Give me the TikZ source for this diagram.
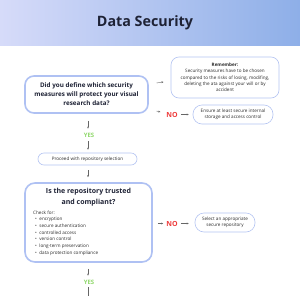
\documentclass[tikz,border=0pt]{standalone}
\usepackage{fontspec}
\setmainfont{Open Sans}
\usetikzlibrary{arrows.meta}
\definecolor{boxline}{HTML}{AFC1F3}
\definecolor{thinline}{HTML}{B4C4F2}
\definecolor{titletxt}{HTML}{1E2235}
\definecolor{yesgreen}{HTML}{8FD86A}
\definecolor{nored}{HTML}{EE3B3B}
\definecolor{bandL}{HTML}{D6DBF9}
\definecolor{bandR}{HTML}{8EAFE8}
\definecolor{txt}{HTML}{2A2A2A}
\tikzset{
  bigbox/.style={draw=boxline, line width=1.6pt, rounded corners=9pt, fill=white, inner sep=0pt},
  smallbox/.style={draw=thinline, line width=0.6pt, rounded corners=8pt, fill=white, inner sep=0pt, align=center,
     font=\fontsize{4.6}{6.3}\selectfont, text=txt},
  qtext/.style={font=\bfseries\fontsize{6.3}{9}\selectfont, align=center, text=titletxt},
  q2text/.style={font=\bfseries\fontsize{7}{10.5}\selectfont, align=center, text=titletxt},
  yeslbl/.style={font=\bfseries\fontsize{6}{7}\selectfont, text=yesgreen, inner sep=0pt},
  nolbl/.style={font=\bfseries\fontsize{7}{8}\selectfont, text=nored, inner sep=0pt},
  arr/.style={draw=black!60, line width=0.4pt, -{Stealth[length=2pt,width=1.8pt]}},
}
\begin{document}
\begin{tikzpicture}[x=1pt,y=-1pt]
\useasboundingbox (0,0) rectangle (300,295);
\fill[white] (0,0) rectangle (300,295);
% title band
\shade[left color=bandL, right color=bandR] (0,0) rectangle (300,45);
\node[font=\bfseries\fontsize{14.3}{16}\selectfont, text=titletxt] (title) at (145,22.5) {Data Security};

% question 1
\node[bigbox, minimum width=123pt, minimum height=37pt] (b1) at (86.5,94.5) {};
\node[qtext] (b1t) at (b1.center) {Did you define which security\\measures will protect your visual\\research data?};

% remember
\node[smallbox, minimum width=108pt, minimum height=41pt] (rem) at (225,77.5)
  {\textbf{Remember:}\\Security measures have to be chosen\\compared to the risks of losing, modifing,\\deleting the ata against your will or by\\accident};

\coordinate (a1s) at (156.5,83);
\coordinate (a1e) at (163.5,82);
\draw[arr] (a1s) -- (a1e);

% NO 1
\coordinate (n1s) at (156.5,111);
\node[nolbl] (no1) at (172,114.5) {NO};
\node[smallbox, rounded corners=9pt, minimum width=80pt, minimum height=19pt] (ens) at (233,114.5)
  {Ensure at least secure internal\\storage and access control};
\draw[arr, shorten >=6pt] (n1s) -- (no1.west |- 0,113.5);
\draw[arr, shorten <=3pt, shorten >=4pt] (no1.east) -- (ens.west);

% YES 1
\node[yeslbl] (yes1) at (89,135) {YES};
\draw[arr, shorten <=7pt, shorten >=4pt] (b1.south -| 88,0) -- (yes1.north -| 88,0);

% proceed
\node[smallbox, rounded corners=6pt, minimum width=99pt, minimum height=12pt] (proc) at (87.5,159)
  {Proceed with repository selection};
\draw[arr, shorten <=4pt, shorten >=3pt] (yes1.south -| 88,0) -- (proc.north -| 88,0);

% question 2
\node[bigbox, rounded corners=10pt, minimum width=127pt, minimum height=79pt] (b2) at (88.5,222.5) {};
\draw[arr, shorten <=5pt, shorten >=5pt] (proc.south -| 88,0) -- (b2.north -| 88,0);
\node[q2text] (b2t) at (88.5,197) {Is the repository trusted\\and compliant?};
\node[anchor=north west, inner sep=0pt, font=\fontsize{4.6}{6.65}\selectfont, text=txt, align=left] (chk) at (33,210.5)
  {Check for:\\
   \hspace*{2pt}\textbullet\hspace{2.5pt}encryption\\
   \hspace*{2pt}\textbullet\hspace{2.5pt}secure authentication\\
   \hspace*{2pt}\textbullet\hspace{2.5pt}controlled access\\
   \hspace*{2pt}\textbullet\hspace{2.5pt}version control\\
   \hspace*{2pt}\textbullet\hspace{2.5pt}long-term preservation\\
   \hspace*{2pt}\textbullet\hspace{2.5pt}data protection compliance};

% NO 2
\node[nolbl] (no2) at (172,223.5) {NO};
\node[smallbox, rounded corners=9pt, minimum width=60pt, minimum height=19pt] (sel) at (225,222.5)
  {Select an appropriate\\secure repository};
\draw[arr, shorten <=5pt, shorten >=3pt] (b2.east |- no2.west) -- (no2.west);
\draw[arr, shorten <=3pt, shorten >=6pt] (no2.east) -- (sel.west |- no2.east);

% YES 2
\node[yeslbl] (yes2) at (89,282) {YES};
\draw[arr, shorten <=6pt, shorten >=4pt] (b2.south -| 88,0) -- (yes2.north -| 88,0);
\coordinate (bot) at (88,303);
\draw[arr] (yes2.south -| 88,0) ++(0,3) -- (bot);
\end{tikzpicture}
\end{document}
